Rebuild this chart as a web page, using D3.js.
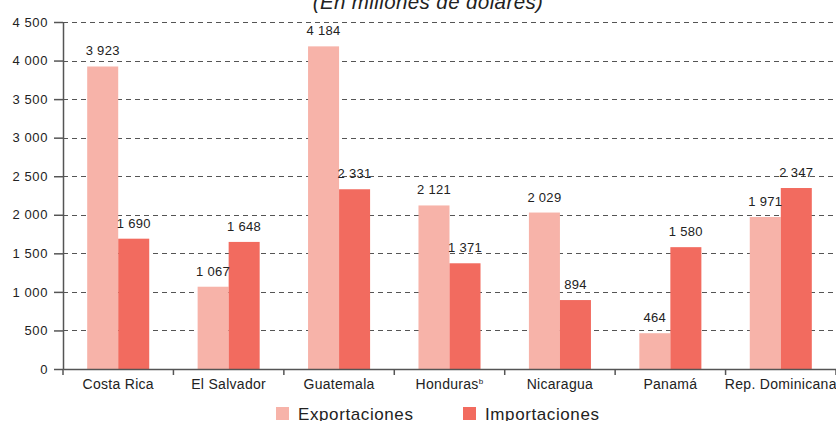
<!DOCTYPE html>
<meta charset="utf-8">
<style>
body { margin: 0; background: #fff; }
text { font-family: "Liberation Sans", Arial, sans-serif; fill: #222; }
.grid line { stroke: #555; stroke-dasharray: 5,4; }
.axis path, .axis line { stroke: #555; stroke-width: 1.5px; }
</style>
<body>
<script src="https://d3js.org/d3.v7.min.js"></script>
<script>

// data
var countries = ["Costa Rica", "El Salvador", "Guatemala", "Honduras", "Nicaragua", "Panamá", "Rep. Dominicana"];
var exportaciones = [3923, 1067, 4184, 2121, 2029, 464, 1971];
var importaciones = [1690, 1648, 2331, 1371, 894, 1580, 2347];
var series = ["Exportaciones", "Importaciones"];
var colors = ["#f7b3a9", "#f26b5f"];
var yTicks = [0, 500, 1000, 1500, 2000, 2500, 3000, 3500, 4000, 4500];

var width = 836, height = 421;
var margin = {top: 22, right: 0, bottom: 52, left: 63};

var svg = d3.select("body").append("svg")
    .attr("width", width)
    .attr("height", height);

var fmt = d3.formatLocale({decimal: ",", thousands: " ", grouping: [3], currency: ["", ""]}).format(",d");

var x = d3.scaleBand()
    .domain(countries)
    .range([margin.left, width - margin.right])
    .paddingInner(0)
    .paddingOuter(0);

var xs = d3.scaleBand()
    .domain(series)
    .range([0, x.bandwidth()])
    .paddingInner(0)
    .paddingOuter(0.78);

var y = d3.scaleLinear()
    .domain([0, 4500])
    .range([height - margin.bottom, margin.top]);

// title
svg.append("text")
    .attr("x", 428)
    .attr("y", 9)
    .attr("text-anchor", "middle")
    .style("font-size", "20.5px")
    .style("letter-spacing", "0.4px")
    .style("font-style", "italic")
    .text("(En millones de dólares)");

// grid
svg.append("g")
    .attr("class", "grid")
  .selectAll("line")
    .data(yTicks.filter(function(d) { return d > 0; }))
  .enter().append("line")
    .attr("x1", margin.left)
    .attr("x2", width)
    .attr("y1", function(d) { return Math.round(y(d)) + 0.5; })
    .attr("y2", function(d) { return Math.round(y(d)) + 0.5; });

// bars
var rows = countries.map(function(c, i) {
  return {country: c, values: [exportaciones[i], importaciones[i]]};
});

var groups = svg.selectAll(".cg")
    .data(rows)
  .enter().append("g")
    .attr("class", "cg")
    .attr("transform", function(d) { return "translate(" + x(d.country) + ",0)"; });

groups.selectAll("rect")
    .data(function(d) { return d.values.map(function(v, j) { return {s: series[j], v: v, j: j}; }); })
  .enter().append("rect")
    .attr("x", function(d) { return xs(d.s); })
    .attr("width", xs.bandwidth())
    .attr("y", function(d) { return y(d.v); })
    .attr("height", function(d) { return y(0) - y(d.v); })
    .style("fill", function(d) { return colors[d.j]; });

groups.selectAll(".val")
    .data(function(d) { return d.values.map(function(v, j) { return {s: series[j], v: v, j: j}; }); })
  .enter().append("text")
    .attr("class", "val")
    .attr("x", function(d) { return xs(d.s) + xs.bandwidth() / 2; })
    .attr("y", function(d) { return y(d.v) - 11; })
    .attr("text-anchor", "middle")
    .style("font-size", "13px")
    .style("letter-spacing", "0.3px")
    .text(function(d) { return fmt(d.v); });

// y axis
var yAxis = svg.append("g")
    .attr("class", "axis")
    .attr("transform", "translate(" + margin.left + ",0)")
    .call(d3.axisLeft(y).tickValues(yTicks).tickSize(9).tickSizeOuter(0).tickFormat(fmt));
yAxis.selectAll("text")
    .style("font-size", "13px")
    .style("letter-spacing", "0.6px")
    .attr("x", -15);

// x axis
var xAxis = svg.append("g")
    .attr("class", "axis")
    .attr("transform", "translate(0," + y(0) + ")")
    .call(d3.axisBottom(x).tickSize(0).tickSizeOuter(0).tickFormat(""));

xAxis.selectAll(".sep")
    .data(countries.concat(["end"]))
  .enter().append("line")
    .attr("class", "sep")
    .attr("x1", function(d, i) { return margin.left + i * x.step(); })
    .attr("x2", function(d, i) { return margin.left + i * x.step(); })
    .attr("y1", 0)
    .attr("y2", 6);

var xl = xAxis.selectAll(".xl")
    .data(countries)
  .enter().append("text")
    .attr("class", "xl")
    .attr("x", function(d) { return x(d) + x.bandwidth() / 2; })
    .attr("y", 20)
    .attr("text-anchor", "middle")
    .style("font-size", "14px")
    .style("letter-spacing", "0.3px")
    .style("fill", "#222");
xl.append("tspan").text(function(d) { return d; });
xl.filter(function(d) { return d === "Honduras"; })
  .append("tspan")
    .attr("dy", -5)
    .style("font-size", "8px")
    .text("b");

// legend
var legend = svg.append("g").attr("class", "legend");
var lx = [276, 463];
series.forEach(function(s, i) {
  legend.append("rect")
    .attr("x", lx[i])
    .attr("y", 407)
    .attr("width", 13)
    .attr("height", 13)
    .style("fill", colors[i]);
  legend.append("text")
    .attr("x", lx[i] + 22)
    .attr("y", 420)
    .style("font-size", "17px")
    .style("letter-spacing", "0.6px")
    .text(s);
});

</script>
</body>
